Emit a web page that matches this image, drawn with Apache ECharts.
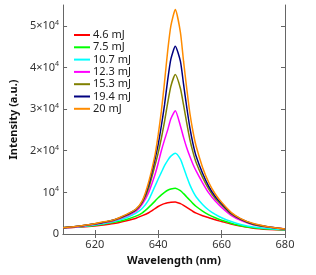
<!DOCTYPE html>
<html><head><meta charset="utf-8">
<script src="https://cdn.jsdelivr.net/npm/echarts@6/dist/echarts.min.js"></script>
<style>html,body{margin:0;padding:0;background:#fff}#c{width:316px;height:275px}</style>
</head><body><div id="c"></div>
<script>
var wavelengths = [610, 614, 618, 622, 626, 630, 633, 635, 637, 639, 640, 641, 642, 643, 644, 645.4, 647, 648, 649, 650, 651, 652, 654, 656, 658, 660, 663, 666, 670, 675, 680];
var seriesNames = ['4.6 mJ', '7.5 mJ', '10.7 mJ', '12.3 mJ', '15.3 mJ', '19.4 mJ', '20 mJ'];
var s46  = [1400, 1600, 1800, 2100, 2500, 3200, 3800, 4400, 5100, 6100, 6600, 7000, 7300, 7500, 7650, 7700, 7300, 6900, 6400, 5900, 5400, 5000, 4400, 3900, 3400, 3000, 2400, 1900, 1400, 1100, 900];
var s75  = [1500, 1700, 1900, 2300, 2800, 3500, 4300, 5100, 6400, 7900, 8700, 9400, 10000, 10500, 10800, 11000, 10400, 9700, 8900, 8100, 7300, 6600, 5500, 4600, 3900, 3300, 2600, 2000, 1500, 1200, 1000];
var s107 = [1500, 1700, 2000, 2400, 3000, 3900, 5000, 6200, 8200, 11500, 13200, 14800, 16400, 17700, 18700, 19400, 18000, 16000, 13800, 11800, 10200, 8900, 7100, 5700, 4700, 3900, 3000, 2300, 1700, 1300, 1000];
var s123 = [1500, 1700, 2100, 2600, 3200, 4300, 5500, 7200, 10000, 14300, 17000, 20000, 22600, 25000, 27700, 29600, 26000, 23200, 20700, 18600, 16700, 15100, 12300, 9800, 7900, 6400, 4500, 3300, 2200, 1600, 1200];
var s153 = [1500, 1800, 2200, 2700, 3300, 4500, 5800, 7600, 11000, 16500, 19500, 23000, 27000, 31500, 35500, 38300, 35000, 31000, 26700, 22700, 19600, 17100, 13600, 10700, 8500, 7000, 4800, 3500, 2300, 1650, 1200];
var s194 = [1500, 1800, 2200, 2700, 3400, 4600, 5900, 7800, 11800, 18000, 21500, 26000, 31000, 37000, 42000, 45100, 41500, 36000, 30500, 25500, 21600, 18600, 14600, 11400, 9000, 7300, 5000, 3600, 2400, 1700, 1200];
var s20  = [1500, 1800, 2200, 2800, 3400, 4700, 6000, 8000, 12500, 19000, 23800, 29500, 36500, 44000, 50000, 53900, 48500, 41500, 35000, 29000, 24500, 21000, 16000, 12300, 9600, 7600, 5200, 3700, 2500, 1700, 1200];
var seriesValues = [s46, s75, s107, s123, s153, s194, s20];
var colors = ['#ff0000', '#00ff00', '#00ffff', '#ff00ff', '#808000', '#000080', '#ff8c00'];
var xTicks = [620, 640, 660, 680];
var yTicks = [0, 10000, 20000, 30000, 40000, 50000];

var FONT = 'Noto Sans';
function yLabel(v) {
  if (yTicks.indexOf(v) < 0) return '';
  if (v === 0) return '0';
  var m = Math.round(v / 10000);
  if (m === 1) return '10{sup|4}';
  return m + '×10{sup|4}';
}
var series = seriesNames.map(function (n, i) {
  return {
    name: n, type: 'line', symbol: 'none', smooth: 0.2,
    lineStyle: { width: 1.5, color: colors[i] }, itemStyle: { color: colors[i] },
    data: wavelengths.map(function (w, j) { return [w, seriesValues[i][j]]; })
  };
});
var axisLine = { show: true, lineStyle: { color: '#666', width: 1 } };
var chart = echarts.init(document.getElementById('c'));
chart.setOption({
  animation: false,
  textStyle: { fontFamily: FONT },
  grid: { left: 51, right: 31, top: 5, bottom: 41 },
  legend: {
    orient: 'vertical', left: 69, top: 24, icon: 'rect', itemWidth: 16, itemHeight: 2, itemGap: 0.3,
    textStyle: { fontFamily: FONT, fontSize: 11, color: '#222', lineHeight: 12, padding: [0, 0, 0, -2] },
    data: seriesNames
  },
  xAxis: [{
    type: 'value', min: 610, max: 680, position: 'bottom',
    name: 'Wavelength (nm)', nameLocation: 'middle', nameGap: 19,
    nameTextStyle: { fontFamily: FONT, fontWeight: 'bold', fontSize: 11, color: '#111' },
    axisLine: axisLine, splitLine: { show: false },
    axisTick: { show: true, inside: true, length: 4, customValues: xTicks, lineStyle: { color: '#666' } },
    axisLabel: { customValues: xTicks, fontSize: 11, color: '#333', margin: 5 }
  }, {
    type: 'value', min: 610, max: 680, position: 'top',
    axisLine: axisLine, splitLine: { show: false },
    axisTick: { show: true, inside: true, length: 4, customValues: xTicks, lineStyle: { color: '#666' } },
    axisLabel: { show: false }
  }],
  yAxis: [{
    type: 'value', min: 0, max: 55000, position: 'left',
    name: 'Intensity (a.u.)', nameLocation: 'middle', nameGap: 38,
    nameTextStyle: { fontFamily: FONT, fontWeight: 'bold', fontSize: 11, color: '#111' },
    axisLine: axisLine, splitLine: { show: false },
    axisTick: { show: true, inside: true, length: 4, customValues: yTicks, lineStyle: { color: '#666' } },
    axisLabel: {
      customValues: yTicks,
      fontSize: 11, color: '#333', margin: 4,
      formatter: yLabel,
      rich: { sup: { fontSize: 7, color: '#333', padding: [0, 0, 6, 0] } }
    }
  }, {
    type: 'value', min: 0, max: 55000, position: 'right',
    axisLine: axisLine, splitLine: { show: false },
    axisTick: { show: true, inside: true, length: 4, customValues: yTicks, lineStyle: { color: '#666' } },
    axisLabel: { show: false }
  }],
  series: series
});
</script></body></html>
